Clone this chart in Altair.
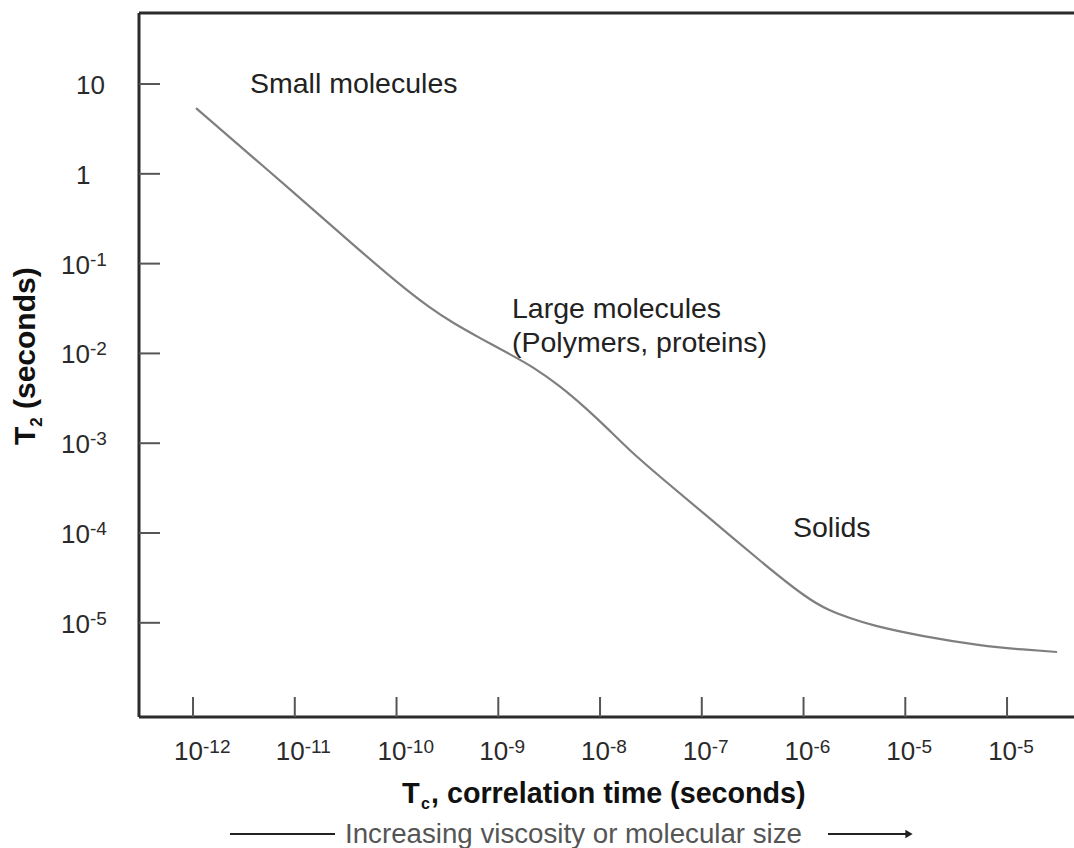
import altair as alt
import pandas as pd

# Transverse relaxation time T2 against correlation time tau_c
tau_c = [1.07e-12, 1.13e-11, 3.49e-11, 1.08e-10, 2.13e-10, 3.59e-10, 6.62e-10,
         1.40e-9, 2.20e-9, 4.05e-9, 7.45e-9, 1.17e-8, 1.84e-8, 3.89e-8,
         1.10e-7, 3.74e-7, 1.06e-6, 1.82e-6, 2.86e-6, 4.51e-6, 1.40e-5,
         5.81e-5, 1.25e-4, 3.10e-4]
t2 = [5.4, 0.537, 0.174, 0.0578, 0.0321, 0.0218, 0.0148,
      0.00935, 0.00706, 0.00434, 0.00240, 0.00148, 8.85e-4, 4.21e-4,
      1.58e-4, 4.88e-5, 1.89e-5, 1.35e-5, 1.13e-5, 9.46e-6, 7.13e-6,
      5.52e-6, 5.1e-6, 4.73e-6]

# Axis ticks and their labels (base and exponent drawn separately)
x_ticks = [1e-12, 1e-11, 1e-10, 1e-9, 1e-8, 1e-7, 1e-6, 1e-5, 1e-4]
x_exps = ["-12", "-11", "-10", "-9", "-8", "-7", "-6", "-5", "-5"]
y_ticks = [10, 1, 0.1, 0.01, 0.001, 1e-4, 1e-5]
y_bases = ["10", "1", "10", "10", "10", "10", "10"]
y_exps = ["", "", "-1", "-2", "-3", "-4", "-5"]

W, H = 935, 704
FONT = "Liberation Sans"
FRAME = "#2b2b2b"

curve = pd.DataFrame({"tau": tau_c, "t2": t2})
xt = pd.DataFrame({"tau": x_ticks, "exp": x_exps})
yt = pd.DataFrame({"t2": y_ticks, "base": y_bases, "exp": y_exps})
one = pd.DataFrame({"k": [0]})

xscale = alt.Scale(type="log", domain=[10 ** -12.531, 10 ** -3.342], nice=False)
yscale = alt.Scale(type="log", domain=[10 ** -6.049, 10 ** 1.791], nice=False)

line = alt.Chart(curve).mark_line(
    color="#7f7f7f", strokeWidth=2.2, interpolate="basis"
).encode(
    x=alt.X("tau:Q", scale=xscale, axis=None),
    y=alt.Y("t2:Q", scale=yscale, axis=None),
)


def rule(x, x2, y, y2=None, color=FRAME, width=3):
    enc = dict(x=alt.value(x), x2=alt.value(x2), y=alt.value(y))
    if y2 is not None:
        enc["y2"] = alt.value(y2)
    return alt.Chart(one).mark_rule(color=color, strokeWidth=width).encode(**enc)


# frame: top, left and bottom sides
frame = [rule(0, W, 0), rule(0, 0, 0, H), rule(0, W, H)]

# inward tick marks
y_tick_marks = alt.Chart(yt).mark_rule(color="#555555", strokeWidth=2).encode(
    y=alt.Y("t2:Q", scale=yscale, axis=None), x=alt.value(0), x2=alt.value(21)
)
x_tick_marks = alt.Chart(xt).mark_rule(color="#555555", strokeWidth=2).encode(
    x=alt.X("tau:Q", scale=xscale, axis=None), y=alt.value(H), y2=alt.value(H - 20)
)

lab = dict(font=FONT, color="#2a2a2a")

x_base = alt.Chart(xt).mark_text(align="right", baseline="alphabetic", dx=10,
                                 fontSize=26, **lab).encode(
    x=alt.X("tau:Q", scale=xscale, axis=None), y=alt.value(747), text=alt.value("10")
)
x_exp = alt.Chart(xt).mark_text(align="left", baseline="alphabetic", dx=10,
                                fontSize=19, **lab).encode(
    x=alt.X("tau:Q", scale=xscale, axis=None), y=alt.value(740), text="exp:N"
)

y_base_exp = alt.Chart(yt).transform_filter("datum.exp != ''").mark_text(
    align="right", baseline="alphabetic", dy=10, fontSize=26, **lab
).encode(y=alt.Y("t2:Q", scale=yscale, axis=None), x=alt.value(-49), text="base:N")
y_exp = alt.Chart(yt).transform_filter("datum.exp != ''").mark_text(
    align="left", baseline="alphabetic", dy=2, fontSize=19, **lab
).encode(y=alt.Y("t2:Q", scale=yscale, axis=None), x=alt.value(-49), text="exp:N")
y_base_plain = alt.Chart(yt).transform_filter("datum.exp == ''").mark_text(
    align="left", baseline="alphabetic", dy=10, fontSize=26, **lab
).encode(y=alt.Y("t2:Q", scale=yscale, axis=None), x=alt.value(-63), text="base:N")


def label(text, x, y, size, weight="normal", color="#222222", angle=0, **kw):
    return alt.Chart(one).mark_text(
        align="left", baseline="alphabetic", font=FONT, fontSize=size,
        fontWeight=weight, color=color, angle=angle, **kw
    ).encode(x=alt.value(x), y=alt.value(y), text=alt.value(text))


annotations = [
    label("Small molecules", 111, 80, 28.5),
    label("Large molecules\n(Polymers, proteins)", 373, 305, 28.5,
          lineBreak="\n", lineHeight=34),
    label("Solids", 654, 524, 28.5),
]

# x title: T with subscript c
x_title = [
    label("T", 263, 790, 29, "bold", "#111111"),
    label("c", 282, 796, 16, "bold", "#111111"),
    label(", correlation time (seconds)", 292, 790, 28.7, "bold", "#111111"),
]

# y title: T with subscript 2, rotated
y_title = [
    label("T", -104, 432, 30, "bold", "#111111", angle=270),
    label("2", -97, 413.7, 17, "bold", "#111111", angle=270),
    label("(seconds)", -104, 396, 30, "bold", "#111111", angle=270),
]

subtitle = label("Increasing viscosity or molecular size", 206, 830, 27.7, color="#555555")
left_bar = rule(91, 196, 821, color="#222222", width=2)
right_bar = rule(689, 768, 821, color="#222222", width=2)
arrow_head = alt.Chart(one).mark_point(
    shape="triangle-right", filled=True, size=70, color="#222222", opacity=1
).encode(x=alt.value(770), y=alt.value(821))

chart = alt.layer(
    line, *frame, y_tick_marks, x_tick_marks,
    x_base, x_exp, y_base_exp, y_exp, y_base_plain,
    *annotations, *x_title, *y_title,
    subtitle, left_bar, right_bar, arrow_head,
).properties(
    width=W, height=H,
    padding={"left": 139, "top": 13, "right": 0, "bottom": 131},
    autosize="none",
    background="white",
).configure_view(stroke=None)

chart.save("out.html", embed_options={"renderer": "svg", "actions": False})
